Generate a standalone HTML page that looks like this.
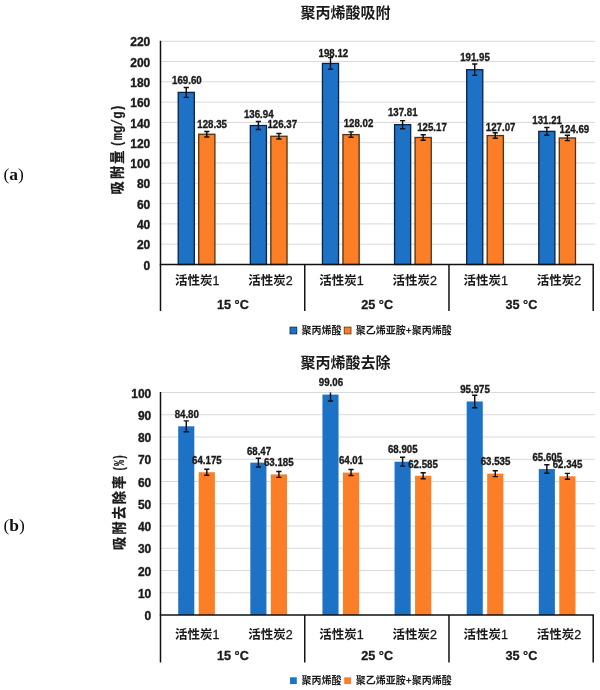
<!DOCTYPE html>
<html lang="zh"><head><meta charset="utf-8"><title>聚丙烯酸吸附</title>
<style>html,body{margin:0;padding:0;background:#fff}body{width:600px;height:690px;overflow:hidden}svg{display:block}</style>
</head><body>
<svg width="600" height="690" viewBox="0 0 600 690">
<rect width="600" height="690" fill="#fff"/>
<line x1="160.5" y1="244.20" x2="595.2" y2="244.20" stroke="#D9D9D9" stroke-width="1"/>
<line x1="160.5" y1="223.91" x2="595.2" y2="223.91" stroke="#D9D9D9" stroke-width="1"/>
<line x1="160.5" y1="203.61" x2="595.2" y2="203.61" stroke="#D9D9D9" stroke-width="1"/>
<line x1="160.5" y1="183.32" x2="595.2" y2="183.32" stroke="#D9D9D9" stroke-width="1"/>
<line x1="160.5" y1="163.02" x2="595.2" y2="163.02" stroke="#D9D9D9" stroke-width="1"/>
<line x1="160.5" y1="142.73" x2="595.2" y2="142.73" stroke="#D9D9D9" stroke-width="1"/>
<line x1="160.5" y1="122.43" x2="595.2" y2="122.43" stroke="#D9D9D9" stroke-width="1"/>
<line x1="160.5" y1="102.14" x2="595.2" y2="102.14" stroke="#D9D9D9" stroke-width="1"/>
<line x1="160.5" y1="81.84" x2="595.2" y2="81.84" stroke="#D9D9D9" stroke-width="1"/>
<line x1="160.5" y1="61.55" x2="595.2" y2="61.55" stroke="#D9D9D9" stroke-width="1"/>
<line x1="160.5" y1="41.25" x2="595.2" y2="41.25" stroke="#D9D9D9" stroke-width="1"/>
<text x="150.3" y="269.60" text-anchor="end" font-family='"Liberation Sans", Arial, sans-serif' font-weight="bold" font-size="12" fill="#1a1a1a" stroke="#1a1a1a" stroke-width="0.35">0</text>
<text x="150.3" y="249.30" text-anchor="end" font-family='"Liberation Sans", Arial, sans-serif' font-weight="bold" font-size="12" fill="#1a1a1a" stroke="#1a1a1a" stroke-width="0.35">20</text>
<text x="150.3" y="229.01" text-anchor="end" font-family='"Liberation Sans", Arial, sans-serif' font-weight="bold" font-size="12" fill="#1a1a1a" stroke="#1a1a1a" stroke-width="0.35">40</text>
<text x="150.3" y="208.71" text-anchor="end" font-family='"Liberation Sans", Arial, sans-serif' font-weight="bold" font-size="12" fill="#1a1a1a" stroke="#1a1a1a" stroke-width="0.35">60</text>
<text x="150.3" y="188.42" text-anchor="end" font-family='"Liberation Sans", Arial, sans-serif' font-weight="bold" font-size="12" fill="#1a1a1a" stroke="#1a1a1a" stroke-width="0.35">80</text>
<text x="150.3" y="168.12" text-anchor="end" font-family='"Liberation Sans", Arial, sans-serif' font-weight="bold" font-size="12" fill="#1a1a1a" stroke="#1a1a1a" stroke-width="0.35">100</text>
<text x="150.3" y="147.83" text-anchor="end" font-family='"Liberation Sans", Arial, sans-serif' font-weight="bold" font-size="12" fill="#1a1a1a" stroke="#1a1a1a" stroke-width="0.35">120</text>
<text x="150.3" y="127.53" text-anchor="end" font-family='"Liberation Sans", Arial, sans-serif' font-weight="bold" font-size="12" fill="#1a1a1a" stroke="#1a1a1a" stroke-width="0.35">140</text>
<text x="150.3" y="107.24" text-anchor="end" font-family='"Liberation Sans", Arial, sans-serif' font-weight="bold" font-size="12" fill="#1a1a1a" stroke="#1a1a1a" stroke-width="0.35">160</text>
<text x="150.3" y="86.94" text-anchor="end" font-family='"Liberation Sans", Arial, sans-serif' font-weight="bold" font-size="12" fill="#1a1a1a" stroke="#1a1a1a" stroke-width="0.35">180</text>
<text x="150.3" y="66.65" text-anchor="end" font-family='"Liberation Sans", Arial, sans-serif' font-weight="bold" font-size="12" fill="#1a1a1a" stroke="#1a1a1a" stroke-width="0.35">200</text>
<text x="150.3" y="46.35" text-anchor="end" font-family='"Liberation Sans", Arial, sans-serif' font-weight="bold" font-size="12" fill="#1a1a1a" stroke="#1a1a1a" stroke-width="0.35">220</text>
<rect x="178.21" y="92.39" width="16.10" height="172.11" fill="#1E72C6" stroke="#0B2048" stroke-width="1.3"/>
<rect x="198.71" y="134.25" width="16.20" height="130.25" fill="#FC7F28" stroke="#54300F" stroke-width="1.3"/>
<rect x="250.33" y="125.54" width="16.10" height="138.96" fill="#1E72C6" stroke="#0B2048" stroke-width="1.3"/>
<rect x="270.82" y="136.26" width="16.20" height="128.24" fill="#FC7F28" stroke="#54300F" stroke-width="1.3"/>
<rect x="322.44" y="63.45" width="16.10" height="201.05" fill="#1E72C6" stroke="#0B2048" stroke-width="1.3"/>
<rect x="342.94" y="134.59" width="16.20" height="129.91" fill="#FC7F28" stroke="#54300F" stroke-width="1.3"/>
<rect x="394.56" y="124.65" width="16.10" height="139.85" fill="#1E72C6" stroke="#0B2048" stroke-width="1.3"/>
<rect x="415.06" y="137.48" width="16.20" height="127.02" fill="#FC7F28" stroke="#54300F" stroke-width="1.3"/>
<rect x="466.68" y="69.71" width="16.10" height="194.79" fill="#1E72C6" stroke="#0B2048" stroke-width="1.3"/>
<rect x="487.18" y="135.55" width="16.20" height="128.95" fill="#FC7F28" stroke="#54300F" stroke-width="1.3"/>
<rect x="538.79" y="131.35" width="16.10" height="133.15" fill="#1E72C6" stroke="#0B2048" stroke-width="1.3"/>
<rect x="559.29" y="137.97" width="16.20" height="126.53" fill="#FC7F28" stroke="#54300F" stroke-width="1.3"/>
<line x1="160.5" y1="40.75" x2="160.5" y2="311" stroke="#111" stroke-width="1.5"/>
<line x1="159.75" y1="264.5" x2="593.95" y2="264.5" stroke="#111" stroke-width="1.5"/>
<line x1="304.73" y1="264.5" x2="304.73" y2="311" stroke="#111" stroke-width="1.5"/>
<line x1="448.97" y1="264.5" x2="448.97" y2="311" stroke="#111" stroke-width="1.5"/>
<line x1="593.20" y1="264.5" x2="593.20" y2="311" stroke="#111" stroke-width="1.5"/>
<clipPath id="clip1"><rect x="160.5" y="41.25" width="432.70000000000005" height="223.25"/></clipPath>
<path clip-path="url(#clip1)" d="M183.66 87.40H188.86M186.26 87.40V97.39M183.66 97.39H188.86" stroke="#111" stroke-width="1.45" fill="none"/>
<path clip-path="url(#clip1)" d="M204.21 131.52H209.41M206.81 131.52V136.99M204.21 136.99H209.41" stroke="#111" stroke-width="1.45" fill="none"/>
<path clip-path="url(#clip1)" d="M255.78 121.51H260.98M258.38 121.51V129.57M255.78 129.57H260.98" stroke="#111" stroke-width="1.45" fill="none"/>
<path clip-path="url(#clip1)" d="M276.32 133.57H281.53M278.93 133.57V138.96M276.32 138.96H281.53" stroke="#111" stroke-width="1.45" fill="none"/>
<path clip-path="url(#clip1)" d="M327.89 57.62H333.09M330.49 57.62V69.28M327.89 69.28H333.09" stroke="#111" stroke-width="1.45" fill="none"/>
<path clip-path="url(#clip1)" d="M348.44 131.86H353.64M351.04 131.86V137.32M348.44 137.32H353.64" stroke="#111" stroke-width="1.45" fill="none"/>
<path clip-path="url(#clip1)" d="M400.01 120.60H405.21M402.61 120.60V128.71M400.01 128.71H405.21" stroke="#111" stroke-width="1.45" fill="none"/>
<path clip-path="url(#clip1)" d="M420.56 134.81H425.76M423.16 134.81V140.15M420.56 140.15H425.76" stroke="#111" stroke-width="1.45" fill="none"/>
<path clip-path="url(#clip1)" d="M472.12 64.07H477.33M474.73 64.07V75.36M472.12 75.36H477.33" stroke="#111" stroke-width="1.45" fill="none"/>
<path clip-path="url(#clip1)" d="M492.68 132.84H497.88M495.28 132.84V138.26M492.68 138.26H497.88" stroke="#111" stroke-width="1.45" fill="none"/>
<path clip-path="url(#clip1)" d="M544.24 127.49H549.44M546.84 127.49V135.21M544.24 135.21H549.44" stroke="#111" stroke-width="1.45" fill="none"/>
<path clip-path="url(#clip1)" d="M564.79 135.31H569.99M567.39 135.31V140.63M564.79 140.63H569.99" stroke="#111" stroke-width="1.45" fill="none"/>
<text transform="translate(186.90 84.25) scale(0.915 1)" text-anchor="middle" font-family='"Liberation Sans", Arial, sans-serif' font-weight="bold" font-size="10.6" fill="#1a1a1a" stroke="#1a1a1a" stroke-width="0.35">169.60</text>
<text transform="translate(212.10 127.50) scale(0.915 1)" text-anchor="middle" font-family='"Liberation Sans", Arial, sans-serif' font-weight="bold" font-size="10.6" fill="#1a1a1a" stroke="#1a1a1a" stroke-width="0.35">128.35</text>
<text transform="translate(258.75 117.50) scale(0.915 1)" text-anchor="middle" font-family='"Liberation Sans", Arial, sans-serif' font-weight="bold" font-size="10.6" fill="#1a1a1a" stroke="#1a1a1a" stroke-width="0.35">136.94</text>
<text transform="translate(282.25 128.00) scale(0.915 1)" text-anchor="middle" font-family='"Liberation Sans", Arial, sans-serif' font-weight="bold" font-size="10.6" fill="#1a1a1a" stroke="#1a1a1a" stroke-width="0.35">126.37</text>
<text transform="translate(333.40 56.75) scale(0.915 1)" text-anchor="middle" font-family='"Liberation Sans", Arial, sans-serif' font-weight="bold" font-size="10.6" fill="#1a1a1a" stroke="#1a1a1a" stroke-width="0.35">198.12</text>
<text transform="translate(358.50 126.75) scale(0.915 1)" text-anchor="middle" font-family='"Liberation Sans", Arial, sans-serif' font-weight="bold" font-size="10.6" fill="#1a1a1a" stroke="#1a1a1a" stroke-width="0.35">128.02</text>
<text transform="translate(402.75 116.25) scale(0.915 1)" text-anchor="middle" font-family='"Liberation Sans", Arial, sans-serif' font-weight="bold" font-size="10.6" fill="#1a1a1a" stroke="#1a1a1a" stroke-width="0.35">137.81</text>
<text transform="translate(432.00 130.50) scale(0.915 1)" text-anchor="middle" font-family='"Liberation Sans", Arial, sans-serif' font-weight="bold" font-size="10.6" fill="#1a1a1a" stroke="#1a1a1a" stroke-width="0.35">125.17</text>
<text transform="translate(475.00 61.25) scale(0.915 1)" text-anchor="middle" font-family='"Liberation Sans", Arial, sans-serif' font-weight="bold" font-size="10.6" fill="#1a1a1a" stroke="#1a1a1a" stroke-width="0.35">191.95</text>
<text transform="translate(500.60 131.25) scale(0.915 1)" text-anchor="middle" font-family='"Liberation Sans", Arial, sans-serif' font-weight="bold" font-size="10.6" fill="#1a1a1a" stroke="#1a1a1a" stroke-width="0.35">127.07</text>
<text transform="translate(547.10 123.75) scale(0.915 1)" text-anchor="middle" font-family='"Liberation Sans", Arial, sans-serif' font-weight="bold" font-size="10.6" fill="#1a1a1a" stroke="#1a1a1a" stroke-width="0.35">131.21</text>
<text transform="translate(574.40 132.50) scale(0.915 1)" text-anchor="middle" font-family='"Liberation Sans", Arial, sans-serif' font-weight="bold" font-size="10.6" fill="#1a1a1a" stroke="#1a1a1a" stroke-width="0.35">124.69</text>
<text x="197.16" y="284.6" text-anchor="middle" font-family='"Noto Sans CJK SC", "WenQuanYi Zen Hei", sans-serif' font-weight="700" font-size="12.5" fill="#1a1a1a">活性炭<tspan font-family='"Liberation Sans", Arial, sans-serif' font-weight="normal" stroke="#1a1a1a" stroke-width="0.3">1</tspan></text>
<text x="270.58" y="284.6" text-anchor="middle" font-family='"Noto Sans CJK SC", "WenQuanYi Zen Hei", sans-serif' font-weight="700" font-size="12.5" fill="#1a1a1a">活性炭<tspan font-family='"Liberation Sans", Arial, sans-serif' font-weight="normal" stroke="#1a1a1a" stroke-width="0.3">2</tspan></text>
<text x="341.39" y="284.6" text-anchor="middle" font-family='"Noto Sans CJK SC", "WenQuanYi Zen Hei", sans-serif' font-weight="700" font-size="12.5" fill="#1a1a1a">活性炭<tspan font-family='"Liberation Sans", Arial, sans-serif' font-weight="normal" stroke="#1a1a1a" stroke-width="0.3">1</tspan></text>
<text x="414.81" y="284.6" text-anchor="middle" font-family='"Noto Sans CJK SC", "WenQuanYi Zen Hei", sans-serif' font-weight="700" font-size="12.5" fill="#1a1a1a">活性炭<tspan font-family='"Liberation Sans", Arial, sans-serif' font-weight="normal" stroke="#1a1a1a" stroke-width="0.3">2</tspan></text>
<text x="485.63" y="284.6" text-anchor="middle" font-family='"Noto Sans CJK SC", "WenQuanYi Zen Hei", sans-serif' font-weight="700" font-size="12.5" fill="#1a1a1a">活性炭<tspan font-family='"Liberation Sans", Arial, sans-serif' font-weight="normal" stroke="#1a1a1a" stroke-width="0.3">1</tspan></text>
<text x="559.04" y="284.6" text-anchor="middle" font-family='"Noto Sans CJK SC", "WenQuanYi Zen Hei", sans-serif' font-weight="700" font-size="12.5" fill="#1a1a1a">活性炭<tspan font-family='"Liberation Sans", Arial, sans-serif' font-weight="normal" stroke="#1a1a1a" stroke-width="0.3">2</tspan></text>
<text x="232.92" y="308.6" text-anchor="middle" font-family='"Liberation Sans", Arial, sans-serif' font-weight="bold" font-size="12.7" fill="#1a1a1a" stroke="#1a1a1a" stroke-width="0.3">15 °C</text>
<text x="377.15" y="308.6" text-anchor="middle" font-family='"Liberation Sans", Arial, sans-serif' font-weight="bold" font-size="12.7" fill="#1a1a1a" stroke="#1a1a1a" stroke-width="0.3">25 °C</text>
<text x="521.38" y="308.6" text-anchor="middle" font-family='"Liberation Sans", Arial, sans-serif' font-weight="bold" font-size="12.7" fill="#1a1a1a" stroke="#1a1a1a" stroke-width="0.3">35 °C</text>
<text x="345.5" y="18.3" text-anchor="middle" font-family='"Noto Sans CJK SC", "WenQuanYi Zen Hei", sans-serif' font-weight="bold" font-size="15" fill="#1a1a1a">聚丙烯酸吸附</text>
<rect x="290" y="327.1" width="6.8" height="6.8" fill="#1E72C6" stroke="#0B2048" stroke-width="0.8"/>
<text x="301.5" y="334.1" font-family='"Noto Sans CJK SC", "WenQuanYi Zen Hei", sans-serif' font-weight="bold" font-size="10" fill="#1a1a1a">聚丙烯酸</text>
<rect x="344.2" y="327.1" width="6.8" height="6.8" fill="#FC7F28" stroke="#54300F" stroke-width="0.8"/>
<text x="355.8" y="334.1" font-family='"Noto Sans CJK SC", "WenQuanYi Zen Hei", sans-serif' font-weight="bold" font-size="10" fill="#1a1a1a">聚乙烯亚胺+聚丙烯酸</text>
<g transform="translate(122.0 194.4) rotate(-90)" fill="#1a1a1a" font-weight="bold">
<text x="0" y="0" font-family='"Noto Sans CJK SC", "WenQuanYi Zen Hei", sans-serif' font-size="13.2" letter-spacing="2.1" stroke="#1a1a1a" stroke-width="0.3">吸附量</text>
<text transform="translate(47.1 -0.2) scale(0.85 1)" x="0" y="0" font-family='"Liberation Mono", monospace' font-size="14" stroke="#1a1a1a" stroke-width="0.25">(mg/g)</text>
</g>
<line x1="160.5" y1="592.75" x2="595.2" y2="592.75" stroke="#D9D9D9" stroke-width="1"/>
<line x1="160.5" y1="570.50" x2="595.2" y2="570.50" stroke="#D9D9D9" stroke-width="1"/>
<line x1="160.5" y1="548.25" x2="595.2" y2="548.25" stroke="#D9D9D9" stroke-width="1"/>
<line x1="160.5" y1="526.00" x2="595.2" y2="526.00" stroke="#D9D9D9" stroke-width="1"/>
<line x1="160.5" y1="503.75" x2="595.2" y2="503.75" stroke="#D9D9D9" stroke-width="1"/>
<line x1="160.5" y1="481.50" x2="595.2" y2="481.50" stroke="#D9D9D9" stroke-width="1"/>
<line x1="160.5" y1="459.25" x2="595.2" y2="459.25" stroke="#D9D9D9" stroke-width="1"/>
<line x1="160.5" y1="437.00" x2="595.2" y2="437.00" stroke="#D9D9D9" stroke-width="1"/>
<line x1="160.5" y1="414.75" x2="595.2" y2="414.75" stroke="#D9D9D9" stroke-width="1"/>
<line x1="160.5" y1="392.50" x2="595.2" y2="392.50" stroke="#D9D9D9" stroke-width="1"/>
<text x="151.3" y="620.10" text-anchor="end" font-family='"Liberation Sans", Arial, sans-serif' font-weight="bold" font-size="12" fill="#1a1a1a" stroke="#1a1a1a" stroke-width="0.35">0</text>
<text x="151.3" y="597.85" text-anchor="end" font-family='"Liberation Sans", Arial, sans-serif' font-weight="bold" font-size="12" fill="#1a1a1a" stroke="#1a1a1a" stroke-width="0.35">10</text>
<text x="151.3" y="575.60" text-anchor="end" font-family='"Liberation Sans", Arial, sans-serif' font-weight="bold" font-size="12" fill="#1a1a1a" stroke="#1a1a1a" stroke-width="0.35">20</text>
<text x="151.3" y="553.35" text-anchor="end" font-family='"Liberation Sans", Arial, sans-serif' font-weight="bold" font-size="12" fill="#1a1a1a" stroke="#1a1a1a" stroke-width="0.35">30</text>
<text x="151.3" y="531.10" text-anchor="end" font-family='"Liberation Sans", Arial, sans-serif' font-weight="bold" font-size="12" fill="#1a1a1a" stroke="#1a1a1a" stroke-width="0.35">40</text>
<text x="151.3" y="508.85" text-anchor="end" font-family='"Liberation Sans", Arial, sans-serif' font-weight="bold" font-size="12" fill="#1a1a1a" stroke="#1a1a1a" stroke-width="0.35">50</text>
<text x="151.3" y="486.60" text-anchor="end" font-family='"Liberation Sans", Arial, sans-serif' font-weight="bold" font-size="12" fill="#1a1a1a" stroke="#1a1a1a" stroke-width="0.35">60</text>
<text x="151.3" y="464.35" text-anchor="end" font-family='"Liberation Sans", Arial, sans-serif' font-weight="bold" font-size="12" fill="#1a1a1a" stroke="#1a1a1a" stroke-width="0.35">70</text>
<text x="151.3" y="442.10" text-anchor="end" font-family='"Liberation Sans", Arial, sans-serif' font-weight="bold" font-size="12" fill="#1a1a1a" stroke="#1a1a1a" stroke-width="0.35">80</text>
<text x="151.3" y="419.85" text-anchor="end" font-family='"Liberation Sans", Arial, sans-serif' font-weight="bold" font-size="12" fill="#1a1a1a" stroke="#1a1a1a" stroke-width="0.35">90</text>
<text x="151.3" y="397.60" text-anchor="end" font-family='"Liberation Sans", Arial, sans-serif' font-weight="bold" font-size="12" fill="#1a1a1a" stroke="#1a1a1a" stroke-width="0.35">100</text>
<rect x="178.21" y="426.32" width="16.10" height="188.68" fill="#1E72C6"/>
<rect x="198.71" y="472.21" width="16.20" height="142.79" fill="#FC7F28"/>
<rect x="250.33" y="462.65" width="16.10" height="152.35" fill="#1E72C6"/>
<rect x="270.82" y="474.41" width="16.20" height="140.59" fill="#FC7F28"/>
<rect x="322.44" y="394.59" width="16.10" height="220.41" fill="#1E72C6"/>
<rect x="342.94" y="472.58" width="16.20" height="142.42" fill="#FC7F28"/>
<rect x="394.56" y="461.69" width="16.10" height="153.31" fill="#1E72C6"/>
<rect x="415.06" y="475.75" width="16.20" height="139.25" fill="#FC7F28"/>
<rect x="466.68" y="401.46" width="16.10" height="213.54" fill="#1E72C6"/>
<rect x="487.18" y="473.63" width="16.20" height="141.37" fill="#FC7F28"/>
<rect x="538.79" y="469.03" width="16.10" height="145.97" fill="#1E72C6"/>
<rect x="559.29" y="476.28" width="16.20" height="138.72" fill="#FC7F28"/>
<line x1="160.5" y1="392.00" x2="160.5" y2="662.5" stroke="#111" stroke-width="1.5"/>
<line x1="159.75" y1="615" x2="593.95" y2="615" stroke="#111" stroke-width="1.5"/>
<line x1="304.73" y1="615" x2="304.73" y2="662.5" stroke="#111" stroke-width="1.5"/>
<line x1="448.97" y1="615" x2="448.97" y2="662.5" stroke="#111" stroke-width="1.5"/>
<line x1="593.20" y1="615" x2="593.20" y2="662.5" stroke="#111" stroke-width="1.5"/>
<clipPath id="clip2"><rect x="160.5" y="392.5" width="432.70000000000005" height="222.5"/></clipPath>
<path clip-path="url(#clip2)" d="M183.66 420.85H188.86M186.26 420.85V431.79M183.66 431.79H188.86" stroke="#111" stroke-width="1.45" fill="none"/>
<path clip-path="url(#clip2)" d="M204.21 469.21H209.41M206.81 469.21V475.21M204.21 475.21H209.41" stroke="#111" stroke-width="1.45" fill="none"/>
<path clip-path="url(#clip2)" d="M255.78 458.24H260.98M258.38 458.24V467.07M255.78 467.07H260.98" stroke="#111" stroke-width="1.45" fill="none"/>
<path clip-path="url(#clip2)" d="M276.32 471.46H281.53M278.93 471.46V477.37M276.32 477.37H281.53" stroke="#111" stroke-width="1.45" fill="none"/>
<path clip-path="url(#clip2)" d="M327.89 388.20H333.09M330.49 388.20V400.98M327.89 400.98H333.09" stroke="#111" stroke-width="1.45" fill="none"/>
<path clip-path="url(#clip2)" d="M348.44 469.59H353.64M351.04 469.59V475.57M348.44 475.57H353.64" stroke="#111" stroke-width="1.45" fill="none"/>
<path clip-path="url(#clip2)" d="M400.01 457.24H405.21M402.61 457.24V466.13M400.01 466.13H405.21" stroke="#111" stroke-width="1.45" fill="none"/>
<path clip-path="url(#clip2)" d="M420.56 472.82H425.76M423.16 472.82V478.67M420.56 478.67H425.76" stroke="#111" stroke-width="1.45" fill="none"/>
<path clip-path="url(#clip2)" d="M472.12 395.26H477.33M474.73 395.26V407.65M472.12 407.65H477.33" stroke="#111" stroke-width="1.45" fill="none"/>
<path clip-path="url(#clip2)" d="M492.68 470.67H497.88M495.28 470.67V476.60M492.68 476.60H497.88" stroke="#111" stroke-width="1.45" fill="none"/>
<path clip-path="url(#clip2)" d="M544.24 464.80H549.44M546.84 464.80V473.26M544.24 473.26H549.44" stroke="#111" stroke-width="1.45" fill="none"/>
<path clip-path="url(#clip2)" d="M564.79 473.37H569.99M567.39 473.37V479.20M564.79 479.20H569.99" stroke="#111" stroke-width="1.45" fill="none"/>
<text transform="translate(186.75 417.50) scale(0.915 1)" text-anchor="middle" font-family='"Liberation Sans", Arial, sans-serif' font-weight="bold" font-size="10.6" fill="#1a1a1a" stroke="#1a1a1a" stroke-width="0.35">84.80</text>
<text transform="translate(206.90 463.75) scale(0.915 1)" text-anchor="middle" font-family='"Liberation Sans", Arial, sans-serif' font-weight="bold" font-size="10.6" fill="#1a1a1a" stroke="#1a1a1a" stroke-width="0.35">64.175</text>
<text transform="translate(259.00 454.50) scale(0.915 1)" text-anchor="middle" font-family='"Liberation Sans", Arial, sans-serif' font-weight="bold" font-size="10.6" fill="#1a1a1a" stroke="#1a1a1a" stroke-width="0.35">68.47</text>
<text transform="translate(278.75 465.50) scale(0.915 1)" text-anchor="middle" font-family='"Liberation Sans", Arial, sans-serif' font-weight="bold" font-size="10.6" fill="#1a1a1a" stroke="#1a1a1a" stroke-width="0.35">63.185</text>
<text transform="translate(330.90 385.50) scale(0.915 1)" text-anchor="middle" font-family='"Liberation Sans", Arial, sans-serif' font-weight="bold" font-size="10.6" fill="#1a1a1a" stroke="#1a1a1a" stroke-width="0.35">99.06</text>
<text transform="translate(351.00 463.75) scale(0.915 1)" text-anchor="middle" font-family='"Liberation Sans", Arial, sans-serif' font-weight="bold" font-size="10.6" fill="#1a1a1a" stroke="#1a1a1a" stroke-width="0.35">64.01</text>
<text transform="translate(402.75 453.00) scale(0.915 1)" text-anchor="middle" font-family='"Liberation Sans", Arial, sans-serif' font-weight="bold" font-size="10.6" fill="#1a1a1a" stroke="#1a1a1a" stroke-width="0.35">68.905</text>
<text transform="translate(423.00 467.50) scale(0.915 1)" text-anchor="middle" font-family='"Liberation Sans", Arial, sans-serif' font-weight="bold" font-size="10.6" fill="#1a1a1a" stroke="#1a1a1a" stroke-width="0.35">62.585</text>
<text transform="translate(475.00 392.50) scale(0.915 1)" text-anchor="middle" font-family='"Liberation Sans", Arial, sans-serif' font-weight="bold" font-size="10.6" fill="#1a1a1a" stroke="#1a1a1a" stroke-width="0.35">95.975</text>
<text transform="translate(495.50 465.00) scale(0.915 1)" text-anchor="middle" font-family='"Liberation Sans", Arial, sans-serif' font-weight="bold" font-size="10.6" fill="#1a1a1a" stroke="#1a1a1a" stroke-width="0.35">63.535</text>
<text transform="translate(547.25 460.50) scale(0.915 1)" text-anchor="middle" font-family='"Liberation Sans", Arial, sans-serif' font-weight="bold" font-size="10.6" fill="#1a1a1a" stroke="#1a1a1a" stroke-width="0.35">65.605</text>
<text transform="translate(567.50 468.00) scale(0.915 1)" text-anchor="middle" font-family='"Liberation Sans", Arial, sans-serif' font-weight="bold" font-size="10.6" fill="#1a1a1a" stroke="#1a1a1a" stroke-width="0.35">62.345</text>
<text x="197.16" y="639.2" text-anchor="middle" font-family='"Noto Sans CJK SC", "WenQuanYi Zen Hei", sans-serif' font-weight="700" font-size="12.5" fill="#1a1a1a">活性炭<tspan font-family='"Liberation Sans", Arial, sans-serif' font-weight="normal" stroke="#1a1a1a" stroke-width="0.3">1</tspan></text>
<text x="270.58" y="639.2" text-anchor="middle" font-family='"Noto Sans CJK SC", "WenQuanYi Zen Hei", sans-serif' font-weight="700" font-size="12.5" fill="#1a1a1a">活性炭<tspan font-family='"Liberation Sans", Arial, sans-serif' font-weight="normal" stroke="#1a1a1a" stroke-width="0.3">2</tspan></text>
<text x="341.39" y="639.2" text-anchor="middle" font-family='"Noto Sans CJK SC", "WenQuanYi Zen Hei", sans-serif' font-weight="700" font-size="12.5" fill="#1a1a1a">活性炭<tspan font-family='"Liberation Sans", Arial, sans-serif' font-weight="normal" stroke="#1a1a1a" stroke-width="0.3">1</tspan></text>
<text x="414.81" y="639.2" text-anchor="middle" font-family='"Noto Sans CJK SC", "WenQuanYi Zen Hei", sans-serif' font-weight="700" font-size="12.5" fill="#1a1a1a">活性炭<tspan font-family='"Liberation Sans", Arial, sans-serif' font-weight="normal" stroke="#1a1a1a" stroke-width="0.3">2</tspan></text>
<text x="485.63" y="639.2" text-anchor="middle" font-family='"Noto Sans CJK SC", "WenQuanYi Zen Hei", sans-serif' font-weight="700" font-size="12.5" fill="#1a1a1a">活性炭<tspan font-family='"Liberation Sans", Arial, sans-serif' font-weight="normal" stroke="#1a1a1a" stroke-width="0.3">1</tspan></text>
<text x="559.04" y="639.2" text-anchor="middle" font-family='"Noto Sans CJK SC", "WenQuanYi Zen Hei", sans-serif' font-weight="700" font-size="12.5" fill="#1a1a1a">活性炭<tspan font-family='"Liberation Sans", Arial, sans-serif' font-weight="normal" stroke="#1a1a1a" stroke-width="0.3">2</tspan></text>
<text x="232.92" y="659.5" text-anchor="middle" font-family='"Liberation Sans", Arial, sans-serif' font-weight="bold" font-size="12.7" fill="#1a1a1a" stroke="#1a1a1a" stroke-width="0.3">15 °C</text>
<text x="377.15" y="659.5" text-anchor="middle" font-family='"Liberation Sans", Arial, sans-serif' font-weight="bold" font-size="12.7" fill="#1a1a1a" stroke="#1a1a1a" stroke-width="0.3">25 °C</text>
<text x="521.38" y="659.5" text-anchor="middle" font-family='"Liberation Sans", Arial, sans-serif' font-weight="bold" font-size="12.7" fill="#1a1a1a" stroke="#1a1a1a" stroke-width="0.3">35 °C</text>
<text x="345.5" y="368.3" text-anchor="middle" font-family='"Noto Sans CJK SC", "WenQuanYi Zen Hei", sans-serif' font-weight="bold" font-size="15" fill="#1a1a1a">聚丙烯酸去除</text>
<rect x="290" y="677.3" width="6.8" height="6.8" fill="#1E72C6"/>
<text x="301.5" y="684.3" font-family='"Noto Sans CJK SC", "WenQuanYi Zen Hei", sans-serif' font-weight="bold" font-size="10" fill="#1a1a1a">聚丙烯酸</text>
<rect x="344.2" y="677.3" width="6.8" height="6.8" fill="#FC7F28"/>
<text x="355.8" y="684.3" font-family='"Noto Sans CJK SC", "WenQuanYi Zen Hei", sans-serif' font-weight="bold" font-size="10" fill="#1a1a1a">聚乙烯亚胺+聚丙烯酸</text>
<g transform="translate(124.1 550.1) rotate(-90)" fill="#1a1a1a" font-weight="bold">
<text x="0" y="0" font-family='"Noto Sans CJK SC", "WenQuanYi Zen Hei", sans-serif' font-size="13.2" letter-spacing="2.1" stroke="#1a1a1a" stroke-width="0.3">吸附去除率</text>
<text transform="translate(78.7 -0.2) scale(0.685 1)" x="0" y="0" font-family='"Liberation Mono", monospace' font-size="14" stroke="#1a1a1a" stroke-width="0.25">(%)</text>
</g>
<text x="3.5" y="180.2" font-family='"Liberation Serif", serif' font-size="17.5" fill="#111">(<tspan font-weight="bold">a</tspan>)</text>
<text x="3.5" y="531" font-family='"Liberation Serif", serif' font-size="17.5" fill="#111">(<tspan font-weight="bold">b</tspan>)</text>
</svg></body></html>
